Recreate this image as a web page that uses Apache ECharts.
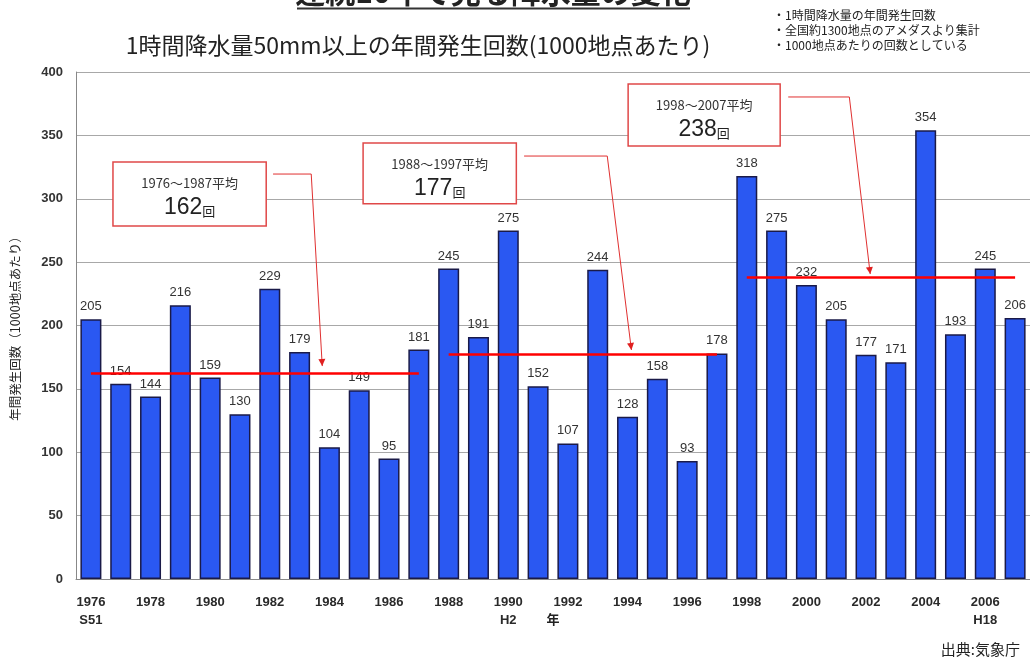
<!DOCTYPE html>
<html>
<head>
<meta charset="utf-8">
<script src="https://cdn.jsdelivr.net/npm/echarts@6/dist/echarts.min.js"></script>
<style>
  html, body { margin: 0; padding: 0; background: #fff; }
  #main { width: 1030px; height: 661px; }
</style>
</head>
<body>
<div id="main"></div>
<script>
// Annual count of hourly rainfall >= 50mm (per 1000 stations), 1976-2007
const years = ['1976','1977','1978','1979','1980','1981','1982','1983','1984','1985','1986','1987',
               '1988','1989','1990','1991','1992','1993','1994','1995','1996','1997',
               '1998','1999','2000','2001','2002','2003','2004','2005','2006','2007'];
const counts = [205,154,144,216,159,130,229,179,104,149,95,181,
                245,191,275,152,107,244,128,158,93,178,
                318,275,232,205,177,171,354,193,245,206];
const eraLabels = { '1976': 'S51', '1990': 'H2', '2006': 'H18' };

// Ten-year averages and the spans they cover
const avgTitles = ['1976～1987平均', '1988～1997平均', '1998～2007平均'];
const avgValues = [162, 177, 238];
const avgFrom = ['1976', '1988', '1998'];
const avgTo = ['1987', '1997', '2007'];

// Callout boxes in data units: [left index, right index, top value, bottom value]
const calloutBoxes = [[0.74, 5.88, 329, 278.5], [9.13, 14.27, 344, 296], [18.02, 23.12, 390.5, 341.6]];
// Leader lines in data units: start, elbow, arrow tip (index, value)
const leaders = [
  [[6.11, 319.5], [7.39, 319.5], [7.76, 168]],
  [[14.53, 333.7], [17.32, 333.7], [18.13, 180.7]],
  [[23.39, 380.3], [25.44, 380.3], [26.14, 240.6]]
];

const notes = ['・1時間降水量の年間発生回数', '・全国約1300地点のアメダスより集計', '・1000地点あたりの回数としている'];

const FONT = "'Liberation Sans', 'Noto Sans CJK JP', sans-serif";
const JFONT = "'Noto Sans CJK JP', 'Liberation Sans', sans-serif";

const chart = echarts.init(document.getElementById('main'), null, { renderer: 'canvas' });

chart.setOption({
  animation: false,
  backgroundColor: '#ffffff',
  grid: { left: 76, right: 0, top: 72, bottom: 82 },
  xAxis: {
    type: 'category',
    data: years,
    name: '年',
    nameLocation: 'middle',
    nameGap: 34,
    nameMoveOverlap: false,
    nameTextStyle: { fontFamily: JFONT, fontSize: 13, color: '#222', fontWeight: 'bold' },
    axisLine: { show: true, lineStyle: { color: '#888', width: 1 } },
    axisTick: { show: false },
    axisLabel: {
      interval: 1,
      margin: 14,
      fontFamily: FONT,
      fontSize: 13,
      fontWeight: 'bold',
      color: '#2a2a2a',
      lineHeight: 18,
      formatter: function (v) { return eraLabels[v] ? v + '\n' + eraLabels[v] : v; }
    }
  },
  yAxis: {
    type: 'value',
    min: 0, max: 400, interval: 50,
    name: '年間発生回数（1000地点あたり）',
    nameLocation: 'middle',
    nameGap: 54,
    nameMoveOverlap: false,
    nameRotate: 90,
    nameTextStyle: { fontFamily: JFONT, fontSize: 12.5, color: '#222' },
    axisLine: { show: true, lineStyle: { color: '#888', width: 1 } },
    axisTick: { show: false },
    splitLine: { lineStyle: { color: '#a8a8a8', width: 1 } },
    axisLabel: { fontFamily: FONT, fontSize: 13, fontWeight: 'bold', color: '#333', margin: 13 }
  },
  series: [{
    type: 'bar',
    data: counts,
    barWidth: 21,
    itemStyle: { color: '#2a58f2', borderColor: '#1a1a48', borderWidth: 1.5 },
    label: { show: true, position: 'top', distance: 6, fontFamily: FONT, fontSize: 13, color: '#333' },
    markLine: {
      silent: true,
      symbol: ['none', 'none'],
      label: { show: false },
      lineStyle: { color: '#ff0000', width: 2.5, type: 'solid' },
      data: avgValues.map(function (v, i) {
        return [{ xAxis: avgFrom[i], yAxis: v }, { xAxis: avgTo[i], yAxis: v }];
      })
    }
  }]
});

// Annotations: positioned from data units through the chart's own axes
function px(idx) {
  const a = chart.convertToPixel({ xAxisIndex: 0 }, 0);
  const b = chart.convertToPixel({ xAxisIndex: 0 }, 1);
  return a + (b - a) * idx;
}
function py(v) { return chart.convertToPixel({ yAxisIndex: 0 }, v); }

const graphics = [];

// Page title (runs off the top edge) and its underline
graphics.push({
  type: 'text', x: 493, y: 7,
  style: { text: '連続10年で見る降水量の変化', font: 'bold 30px ' + JFONT, fill: '#222', align: 'center', verticalAlign: 'bottom' }
});
graphics.push({ type: 'line', shape: { x1: 297, y1: 8.5, x2: 690, y2: 8.5 }, style: { stroke: '#333', lineWidth: 2 } });

// Subtitle
graphics.push({
  type: 'text', x: 418, y: 45,
  style: { text: '1時間降水量50mm以上の年間発生回数(1000地点あたり)', font: '23px ' + JFONT, fill: '#222', align: 'center', verticalAlign: 'middle' }
});

// Notes, top right
notes.forEach(function (t, i) {
  graphics.push({
    type: 'text', x: 773, y: 15 + i * 15,
    style: { text: t, font: '12px ' + JFONT, fill: '#222', align: 'left', verticalAlign: 'middle' }
  });
});

// Source
graphics.push({
  type: 'text', x: 1020, y: 649,
  style: { text: '出典:気象庁', font: '15px ' + JFONT, fill: '#222', align: 'right', verticalAlign: 'middle' }
});

// Callouts with leader arrows
calloutBoxes.forEach(function (b, i) {
  const x1 = px(b[0]), x2 = px(b[1]), y1 = py(b[2]), y2 = py(b[3]);
  graphics.push({
    type: 'rect', z: 10,
    shape: { x: x1, y: y1, width: x2 - x1, height: y2 - y1 },
    style: { fill: '#fff', stroke: '#e04848', lineWidth: 1.5 }
  });
  const cx = (x1 + x2) / 2;
  graphics.push({
    type: 'text', z: 11, x: cx, y: y1 + 21,
    style: { text: avgTitles[i], font: '13px ' + JFONT, fill: '#333', align: 'center', verticalAlign: 'middle' }
  });
  graphics.push({
    type: 'text', z: 11, x: cx, y: y1 + 46,
    style: {
      text: '{n|' + avgValues[i] + '}{u|回}',
      align: 'center', verticalAlign: 'middle',
      rich: {
        n: { fontFamily: FONT, fontSize: 23, fill: '#222', color: '#222' },
        u: { fontFamily: JFONT, fontSize: 13, fill: '#222', color: '#222', padding: [6, 0, 0, 0] }
      }
    }
  });

  const pts = leaders[i].map(function (p) { return [px(p[0]), py(p[1])]; });
  graphics.push({
    type: 'polyline', z: 9,
    shape: { points: pts },
    style: { stroke: '#e03030', lineWidth: 1, fill: null }
  });
  // arrowhead along the last segment
  const tip = pts[2], prev = pts[1];
  const dx = tip[0] - prev[0], dy = tip[1] - prev[1];
  const len = Math.sqrt(dx * dx + dy * dy);
  const ux = dx / len, uy = dy / len;
  const L = 7, W = 3.5;
  const bx = tip[0] - ux * L, by = tip[1] - uy * L;
  graphics.push({
    type: 'polygon', z: 9,
    shape: { points: [tip, [bx - uy * W, by + ux * W], [bx + uy * W, by - ux * W]] },
    style: { fill: '#e02020' }
  });
});

chart.setOption({ graphic: graphics });
</script>
</body>
</html>
